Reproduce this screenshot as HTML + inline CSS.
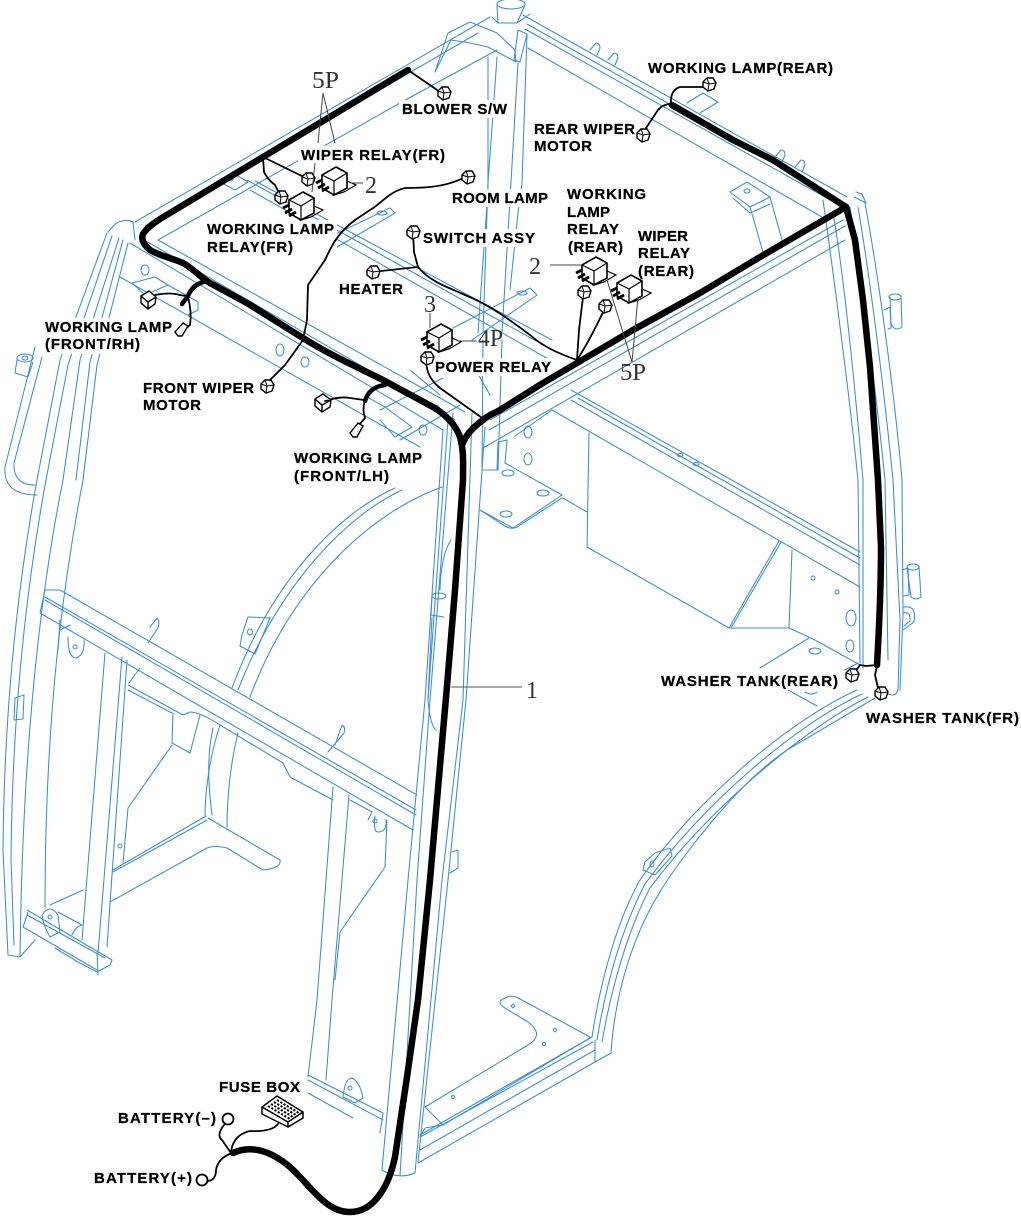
<!DOCTYPE html>
<html><head><meta charset="utf-8"><title>Cab harness</title>
<style>
html,body{margin:0;padding:0;background:#fff}
svg{display:block}
.f{fill:none;stroke:#3a8ed4;stroke-width:1.05;stroke-linejoin:round;stroke-linecap:round}
.h{fill:none;stroke:#000;stroke-width:6.5;stroke-linejoin:round;stroke-linecap:round}
.w{fill:none;stroke:#000;stroke-width:1.8;stroke-linejoin:round;stroke-linecap:round}
.ld{fill:none;stroke:#444;stroke-width:1}
.lb{font:bold 15px "Liberation Sans",sans-serif;fill:#000;stroke:#000;stroke-width:.25}
.n{font:24px "Liberation Serif",serif;fill:#333}
</style></head><body>
<svg width="1021" height="1216" viewBox="0 0 1021 1216" xmlns="http://www.w3.org/2000/svg">
<defs>
<g id="c"><path d="M-6,-2 L-2,-6 L4,-6 L7,-1 L5,5 L-1,7 L-6,3 Z" fill="#fff" stroke="#000" stroke-width="1.4"/><path d="M-2,-6 L0,0 L7,-1 M0,0 L-1,7 M-6,-2 L0,0" fill="none" stroke="#000" stroke-width="1"/></g>
<g id="r"><path d="M11,1 L20,5 L8,12 L-2,15 Z" fill="#fff" stroke="#000" stroke-width="1.2"/><path d="M0,-13 L11,-7 L11,8 L-2,15 L-14,8 L-14,-5 Z" fill="#fff" stroke="#000" stroke-width="1.6"/><path d="M-14,-5 L-2,1 L11,-7 M-2,1 L-2,15" fill="none" stroke="#000" stroke-width="1.2"/><path d="M-14,0 L-20,3 M-11,4 L-18,8 M-7,7 L-14,11" stroke="#000" stroke-width="2.8" fill="none"/></g>
</defs>

<!-- top roof frame -->
<g class="f">
<path d="M135,222 L490,17"/><path d="M145,226 L478,33"/><path d="M158,240 L400,103 L497,50"/>
<path d="M108,232 L115,224 Q125,218 133,222 L135,240"/>
<path d="M523,15 L847,197"/><path d="M527,24 L835,197"/><path d="M528,48 L822,217"/><path d="M525,29 L832,201"/>
<path d="M130,243 L443,430"/><path d="M158,240 L465,412"/><path d="M120,277 L420,447"/><path d="M146,241 L455,420"/>
<path d="M247,180 L547,347"/><path d="M250,190 L550,360"/><path d="M255,181 L552,340"/>
<path d="M483,448 L845,240"/><path d="M490,420 L843,220"/><path d="M489,430 L845,226"/>
<path d="M380,410 L443,378"/><path d="M400,440 L460,405"/>
<!-- top post -->
<ellipse cx="511" cy="4" rx="14" ry="5"/><path d="M497,5 L498,23 L517,23 L525,5"/>
<path d="M492,17 L498,23 M517,23 L530,14"/>
<path d="M448,33 L470,22 L497,33 L515,50 L516,62 L488,47 L470,43 L451,40 L435,72 Z"/>
<path d="M488,57 L488,190 L478,333"/><path d="M497,57 L488,183 L483,333"/><path d="M518,63 L507,250 L502,333"/><path d="M527,35 L522,183 L518,213 L510,290"/>
<path d="M483,340 L482,470"/><path d="M502,340 L498,470"/>
<path d="M518,30 L527,34 L520,62 L514,60 Z"/>
<!-- tabs -->
<path d="M590,50 L596,43 Q600,43 600,48 L597,55"/><path d="M608,60 L614,53 Q618,53 618,58 L615,65"/>
<path d="M775,157 L781,150 Q785,150 785,155 L782,162"/><path d="M795,167 L801,160 Q805,160 805,165 L802,172"/>
<path d="M687,103 L703,93 L718,102 L700,113"/>
<!-- right roof bracket -->
<path d="M730,192 L747,182 L770,197 L750,207 Z M733,198 L750,213 L770,204"/><path d="M750,207 L763,252"/><path d="M770,197 L782,240"/><ellipse cx="747" cy="191" rx="3" ry="2"/>
<!-- left plates -->
<path d="M220,182 L233,173 L248,182 L235,190 Z"/><circle cx="231" cy="179" r="2"/>
<path d="M313,245 L390,208 L395,213 L327,253 Z"/><path d="M453,328 L530,288 L537,295 L472,340"/><ellipse cx="522" cy="293" rx="5" ry="2"/><ellipse cx="326" cy="246" rx="5" ry="2"/><ellipse cx="382" cy="213" rx="5" ry="2"/>
<path d="M132,283 L155,277 L168,285 L145,295 Z"/><path d="M168,285 L198,302 L198,310 L188,315"/><ellipse cx="145" cy="270" rx="4" ry="5"/>
<path d="M367,397 L385,407 L412,427 L395,437 L380,420"/><ellipse cx="280" cy="350" rx="4" ry="6"/><ellipse cx="305" cy="362" rx="4" ry="5"/><ellipse cx="423" cy="430" rx="4" ry="5"/>
<path d="M437,405 L460,430"/><path d="M410,370 L440,395"/><path d="M470,360 L490,395"/>
<!-- front-left pillar -->
<path d="M107,233 L60,360 L37,480 C15,600 4,720 3,850 L8,955"/>
<path d="M112,236 L68,365 L46,480 C24,600 12,730 11,860 L14,945"/>
<path d="M119,238 L80,360 L63,480 C35,620 22,780 20,957"/>
<path d="M128,243 L97,365 L83,480 C62,590 45,720 45,907"/>
<path d="M123,240 L90,362 L76,480"/>
<path d="M8,955 L20,957 L35,940"/>
<!-- handle -->
<path d="M35,347 L5,467 Q3,495 37,495"/><path d="M42,357 L14,463 Q13,485 35,485"/>
<ellipse cx="25" cy="358" rx="8" ry="4"/><path d="M17,360 L15,373 L28,377 L33,362"/><ellipse cx="25" cy="358" rx="3" ry="2"/>
<path d="M15,698 L24,695 L23,719 L14,720 Z"/>
</g>

<!-- front left cross beam + lower -->
<g class="f">
<path d="M60,590 L417,795"/><path d="M45,590 L60,590"/><path d="M45,590 L40,613 L413,830"/><path d="M45,597 L416,810"/><path d="M45,600 L416,815"/>
<path d="M150,627 L157,618 Q160,620 158,628 L148,643"/><path d="M335,745 L342,725 Q346,727 344,733 L328,752"/>
<path d="M105,653 L82,940"/><path d="M122,657 L98,953"/><path d="M127,660 L107,947"/>
<path d="M60,620 L58,650 M60,630 L70,625"/><path d="M68,637 Q68,658 76,658 Q85,655 84,640"/><circle cx="75" cy="647" r="2"/>
<path d="M128,685 L183,715 L190,712 Q200,712 220,725 L283,763 L290,777 L333,800"/><path d="M128,690 L172,713"/>
<path d="M129,683 L140,668"/>
<path d="M173,713 L172,743 L190,753 L200,715"/>
<path d="M172,745 L128,808 L123,863"/><circle cx="120" cy="846" r="2"/>
<path d="M208,818 L280,860 Q282,868 263,870 L227,848 Q215,845 207,848 L110,902"/><path d="M206,816 L113,870"/><path d="M113,872 L207,820"/>
<path d="M83,890 L50,905"/><path d="M27,910 L112,960 L110,965 L97,972 L78,962 L55,948"/><path d="M23,927 L28,912 M23,927 L97,970"/><path d="M27,915 L105,958"/>
<path d="M42,915 Q50,903 58,915 L60,932 L50,937 Q43,925 42,915 Z"/><circle cx="50" cy="917" r="2"/>
<path d="M58,912 L82,925 M72,935 Q75,927 82,925"/>
<path d="M97,953 L98,975"/>
<!-- rear left arch -->
<path d="M395,488 C335,515 270,585 232,688"/><path d="M442,487 C365,515 290,590 250,697"/><path d="M402,490 C342,518 277,590 238,690"/>
<path d="M220,725 C210,755 205,790 205,817"/><path d="M238,733 C230,765 227,800 227,827"/><path d="M213,728 C206,760 209,790 212,815"/>
<path d="M248,617 L270,618 L255,654 L240,646 L242,635 Z"/><ellipse cx="250" cy="632" rx="2.5" ry="3"/>
<!-- column 2 -->
<path d="M333,787 L317,1000 L308,1077"/><path d="M349,795 L332,1000 L326,1080"/>
<path d="M387,820 L385,867 L340,932 L335,980"/><path d="M350,800 L372,812 L368,820"/>
<path d="M375,816 Q373,832 378,832 Q387,832 386,820"/><circle cx="375" cy="821" r="2"/>
<path d="M308,1075 L383,1113 L380,1133"/><path d="M308,1093 L353,1118"/><path d="M308,1080 L383,1120"/>
<path d="M343,1097 Q345,1078 352,1078 Q360,1082 363,1098 L355,1103 L343,1097"/><circle cx="350" cy="1088" r="2"/>
<!-- near front pillar -->
<path d="M443,430 L425,700 L408,880 L382,1170"/><path d="M453,413 L430,700 L417,880 L400,1176"/><path d="M448,420 L428,700"/>
<path d="M472,413 L463,700 L442,880 L415,1173"/><path d="M485,427 L466,700 L448,880 L418,1162"/>
<path d="M382,1170 Q398,1180 415,1173"/>
<path d="M451,540 Q441,555 440,590"/><ellipse cx="439" cy="596" rx="7" ry="3"/><path d="M432,597 L431,615 L444,617"/><path d="M432,617 L428,700 Q430,725 436,730"/>
<path d="M452,852 L458,850 L458,868 L450,873"/>
<!-- center plate -->
<path d="M505,463 L562,495 L513,528 L480,510"/><path d="M480,510 L505,526 Q513,531 520,525 L562,498"/><ellipse cx="508" cy="473" rx="6" ry="3"/><ellipse cx="543" cy="493" rx="6" ry="3"/><ellipse cx="506" cy="514" rx="6" ry="3"/>
<path d="M483,470 L497,470 L498,442 L507,440 L505,463"/>
<ellipse cx="528" cy="432" rx="4" ry="6"/><ellipse cx="528" cy="459" rx="4" ry="6"/>
<!-- rear cross beam & tank -->
<path d="M571,390 L860,552"/><path d="M571,400 L860,565"/><path d="M578,398 L860,558"/><path d="M552,410 L860,587"/><path d="M515,436 L552,410"/>
<ellipse cx="680" cy="455" rx="3" ry="1.5"/><ellipse cx="696" cy="464" rx="3" ry="1.5"/>
<path d="M589,433 L587,547 L729,628"/><path d="M563,498 L587,512"/>
<path d="M729,628 L779,541"/><path d="M731,628 L781,542"/><path d="M729,628 L789,628 L792,550"/><path d="M789,628 L815,640 L860,665"/><path d="M809,638 L760,668"/>
<circle cx="813" cy="578" r="2"/><circle cx="837" cy="592" r="2"/><ellipse cx="851" cy="618" rx="5" ry="8"/><ellipse cx="850" cy="646" rx="4" ry="6"/><ellipse cx="815" cy="651" rx="6" ry="3"/><path d="M788,690 L817,706"/><path d="M805,692 Q812,696 817,692"/><path d="M845,670 L858,663"/>
<!-- right pillar -->
<path d="M823,200 C833,270 850,400 858,480 L860,663"/><path d="M833,213 C845,280 858,420 863,480 L863,668"/><path d="M858,207 C872,290 885,400 893,480 L900,620 L898,690 Q896,695 893,695 L877,693"/><path d="M865,203 C880,285 895,400 902,480 L903,613 L900,690"/><path d="M850,207 C862,280 878,410 885,480 L888,660"/>
<path d="M854,197 L866,203 L862,194 L856,192"/>
<path d="M884,310 L890,307 L891,328 L888,329"/><path d="M890,297 L891,324 Q895,332 902,327 L901,297"/><ellipse cx="895" cy="297" rx="6" ry="3"/>
<path d="M902,570 L908,568 L909,595 L903,596"/><path d="M907,568 L911,597 Q916,601 921,597 L919,566"/><ellipse cx="913" cy="567" rx="6" ry="3"/>
<path d="M904,607 Q917,605 914,622 L903,630"/><path d="M903,613 Q911,611 910,621 L904,626"/>
<!-- rear right arch -->
<path d="M857,690 C790,720 695,800 640,880 C615,925 600,985 592,1037"/>
<path d="M862,694 C795,725 702,805 645,884 C621,930 606,985 597,1040"/>
<path d="M868,697 C802,730 708,810 650,888 C627,932 611,990 602,1042"/>
<path d="M875,698 L787,750 C735,785 680,860 663,887 C635,930 615,990 611,1053"/>
<path d="M655,853 L670,848 L672,856 L655,875 L643,870 L645,862 Z"/><ellipse cx="652" cy="864" rx="2" ry="3"/>
<path d="M595,1062 L418,1163"/><path d="M590,1038 L443,1125"/><path d="M593,1042 L420,1137"/><path d="M595,1050 L420,1150"/><path d="M592,1037 L420,1135"/><path d="M595,1040 L595,1062 L611,1053"/>
<path d="M425,1107 L528,1045 Q545,1035 528,1022 L505,1008 Q495,1002 505,998 Q512,994 520,999 L590,1037"/><path d="M425,1107 L443,1125 L425,1128 L420,1137"/>
<circle cx="453" cy="1097" r="1.5"/><circle cx="544" cy="1044" r="1.5"/><path d="M555,1028 l2,2 l-2,2 l-2,-2 Z"/><path d="M513,1004 l2,2 l-2,2 l-2,-2 Z"/>
</g>

<!-- label white knockouts -->
<g fill="#fff">
<rect x="399" y="100" width="112" height="18"/><rect x="298" y="146" width="150" height="18"/><rect x="449" y="189" width="102" height="18"/>
<rect x="204" y="220" width="133" height="36"/><rect x="420" y="229" width="118" height="18"/><rect x="336" y="280" width="70" height="18"/>
<rect x="432" y="358" width="122" height="18"/><rect x="42" y="318" width="133" height="36"/><rect x="140" y="379" width="117" height="35"/>
<rect x="291" y="449" width="134" height="36"/><rect x="531" y="120" width="107" height="35"/><rect x="564" y="185" width="85" height="71"/>
<rect x="635" y="227" width="62" height="53"/><rect x="658" y="672" width="183" height="18"/><rect x="863" y="709" width="158" height="18"/>
</g>

<!-- main harness -->
<path class="h" d="M408,70 L263,157 L165,216 Q148,226 143,234 Q140,242 150,250 C160,256 172,258 183,263 C195,270 200,277 210,283 L247,303 L303,338 C330,355 355,366 383,380 L433,407 C448,416 456,426 460,437 C464,450 463,465 463,480 L455,590 L447,686 L430,880 L418,1000 L407,1077 L395,1157 C388,1190 372,1212 350,1212 C325,1212 310,1185 290,1167 C270,1150 250,1145 233,1153"/>
<path class="h" d="M462,445 C466,435 472,428 483,420 C490,414 495,413 500,410 L543,383 L577,363 L633,330 L700,293 L760,257 L846,207"/>
<path class="h" d="M846,207 L773,160 L733,140 L672,105"/>
<path class="h" d="M846,207 L855,240 L863,300 L870,367 L878,480 L881,547 C881,590 879,630 877,665"/>
<path d="M208,281 Q193,283 188,296 L182,304" fill="none" stroke="#000" stroke-width="4.5" stroke-linecap="round"/>
<path d="M385,385 Q369,387 365,401" fill="none" stroke="#000" stroke-width="4.5" stroke-linecap="round"/>

<!-- thin wires -->
<g class="w">
<path d="M408,70 L440,92"/>
<path d="M263,157 L308,179"/>
<path d="M263,157 L264,172 Q268,180 275,185 L281,197"/>
<path d="M465,177 C445,188 420,188 405,188 C388,192 380,205 370,210 L355,220 C335,235 330,250 325,260 L308,285 L307,320 L303,340 L285,365 L270,380"/>
<path d="M413,232 L414,252 L418,267"/><path d="M372,272 L418,267"/>
<path d="M418,267 C430,282 450,288 465,295 C490,305 510,320 530,335 C545,348 560,354 577,360"/>
<path d="M577,360 L579,330 L583,297"/><path d="M577,360 Q590,340 605,308"/>
<path d="M427,358 Q424,375 440,388 L485,420"/>
<path d="M155,295 Q170,292 180,295 Q188,297 191,293"/>
<path d="M188,297 Q192,312 190,325 L183,331"/>
<path d="M325,401 Q340,396 350,398 L364,400"/>
<path d="M365,400 Q362,410 365,418 L359,425"/>
<path d="M671,104 Q663,104 658,110 L646,128"/>
<path d="M671,104 Q670,90 680,87 L703,87"/>
<path d="M877,665 L866,666 L860,665 L855,672"/>
<path d="M877,666 L875,675 L878,688"/>
<path d="M224,1125 Q216,1135 222,1140 L231,1153"/>
<path d="M208,1181 Q216,1180 216,1170 Q218,1158 232,1153"/>
<path d="M231,1152 Q233,1135 250,1131 Q272,1132 278,1124"/>
</g>

<!-- connectors -->
<use href="#c" x="444" y="93"/><use href="#c" x="308" y="179"/><use href="#c" x="281" y="197"/><use href="#c" x="468" y="177"/>
<use href="#c" x="413" y="232"/><use href="#c" x="373" y="272"/><use href="#c" x="427" y="358"/><use href="#c" x="267" y="386"/>
<use href="#c" x="643" y="135"/><use href="#c" x="709" y="84"/><use href="#c" x="584" y="292"/><use href="#c" x="605" y="306"/>
<use href="#c" x="852" y="675"/><use href="#c" x="881" y="693"/>
<!-- lamp connectors -->
<path d="M141,296 L149,291 L156,297 L155,304 L148,309 L141,303 Z M141,296 L148,302 L156,297 M148,302 L148,309" fill="#fff" stroke="#000" stroke-width="1.4"/>
<path d="M315,399 L323,394 L331,400 L330,407 L322,412 L315,406 Z M315,399 L322,405 L331,400 M322,405 L322,412" fill="#fff" stroke="#000" stroke-width="1.4"/>
<path d="M183,323 L188,326 L182,336 L178,336 L175,332 Z" fill="#fff" stroke="#000" stroke-width="1.4"/>
<path d="M358,423 L363,426 L357,437 L353,437 L350,433 Z" fill="#fff" stroke="#000" stroke-width="1.4"/>
<!-- relays -->
<use href="#r" x="336" y="180"/><use href="#r" x="303" y="205"/><use href="#r" x="596" y="270"/><use href="#r" x="631" y="288"/><use href="#r" x="441" y="337"/>

<!-- leaders -->
<g class="ld">
<path d="M323,93 L318,143"/><path d="M323,93 L335,143"/><path d="M315,163 L312,192"/>
<path d="M351,183 L363,183"/><path d="M550,265 L582,265"/><path d="M430,313 L430,328"/><path d="M458,341 L477,341"/>
<path d="M632,362 L607,280"/><path d="M632,362 L638,297"/><path d="M451,687 L522,687" stroke="#555"/>
</g>

<!-- batteries, fuse -->
<circle cx="228" cy="1119" r="5.5" fill="#fff" stroke="#000" stroke-width="1.8"/>
<circle cx="202" cy="1180" r="5.5" fill="#fff" stroke="#000" stroke-width="1.8"/>
<path d="M262,1107 L277,1096 L303,1112 L288,1122 Z M262,1107 L262,1114 L288,1127 L303,1118 L303,1112 M288,1122 L288,1127" fill="#fff" stroke="#000" stroke-width="1.5" stroke-linejoin="round"/>
<g stroke="#000" stroke-width="2" stroke-dasharray="2.2 1.6" fill="none">
<path d="M268,1106 L290,1119"/><path d="M271,1104 L293,1117"/><path d="M274,1102 L296,1115"/><path d="M277,1100 L299,1113"/>
</g>

<!-- labels -->
<g class="lb">
<text x="402" y="114" textLength="105" lengthAdjust="spacing">BLOWER S/W</text>
<text x="301" y="160" textLength="144" lengthAdjust="spacing">WIPER RELAY(FR)</text>
<text x="452" y="203" textLength="96" lengthAdjust="spacing">ROOM LAMP</text>
<text x="207" y="234" textLength="127" lengthAdjust="spacing">WORKING LAMP</text>
<text x="207" y="252" textLength="86" lengthAdjust="spacing">RELAY(FR)</text>
<text x="423" y="243" textLength="112" lengthAdjust="spacing">SWITCH ASSY</text>
<text x="339" y="294" textLength="64" lengthAdjust="spacing">HEATER</text>
<text x="435" y="372" textLength="116" lengthAdjust="spacing">POWER RELAY</text>
<text x="45" y="332" textLength="127" lengthAdjust="spacing">WORKING LAMP</text>
<text x="45" y="349" textLength="95" lengthAdjust="spacing">(FRONT/RH)</text>
<text x="143" y="393" textLength="111" lengthAdjust="spacing">FRONT WIPER</text>
<text x="143" y="410" textLength="58" lengthAdjust="spacing">MOTOR</text>
<text x="294" y="463" textLength="128" lengthAdjust="spacing">WORKING LAMP</text>
<text x="294" y="481" textLength="95" lengthAdjust="spacing">(FRONT/LH)</text>
<text x="534" y="134" textLength="101" lengthAdjust="spacing">REAR WIPER</text>
<text x="534" y="151" textLength="58" lengthAdjust="spacing">MOTOR</text>
<text x="648" y="73" textLength="185" lengthAdjust="spacing">WORKING LAMP(REAR)</text>
<text x="567" y="199" textLength="79" lengthAdjust="spacing">WORKING</text>
<text x="567" y="217" textLength="43" lengthAdjust="spacing">LAMP</text>
<text x="567" y="234" textLength="52" lengthAdjust="spacing">RELAY</text>
<text x="568" y="252" textLength="55" lengthAdjust="spacing">(REAR)</text>
<text x="638" y="241" textLength="50" lengthAdjust="spacing">WIPER</text>
<text x="638" y="258" textLength="52" lengthAdjust="spacing">RELAY</text>
<text x="638" y="276" textLength="56" lengthAdjust="spacing">(REAR)</text>
<text x="661" y="686" textLength="177" lengthAdjust="spacing">WASHER TANK(REAR)</text>
<text x="866" y="723" textLength="153" lengthAdjust="spacing">WASHER TANK(FR)</text>
<text x="219" y="1092" textLength="81" lengthAdjust="spacing">FUSE BOX</text>
<text x="118" y="1123" textLength="98" lengthAdjust="spacing">BATTERY(–)</text>
<text x="94" y="1183" textLength="98" lengthAdjust="spacing">BATTERY(+)</text>
</g>
<g class="n">
<text x="312" y="88" textLength="27" lengthAdjust="spacingAndGlyphs">5P</text>
<text x="365" y="193">2</text>
<text x="529" y="274">2</text>
<text x="424" y="312">3</text>
<text x="478" y="346" textLength="25" lengthAdjust="spacingAndGlyphs">4P</text>
<text x="620" y="380" textLength="26" lengthAdjust="spacingAndGlyphs">5P</text>
<text x="526" y="698">1</text>
</g>
</svg>
</body></html>
